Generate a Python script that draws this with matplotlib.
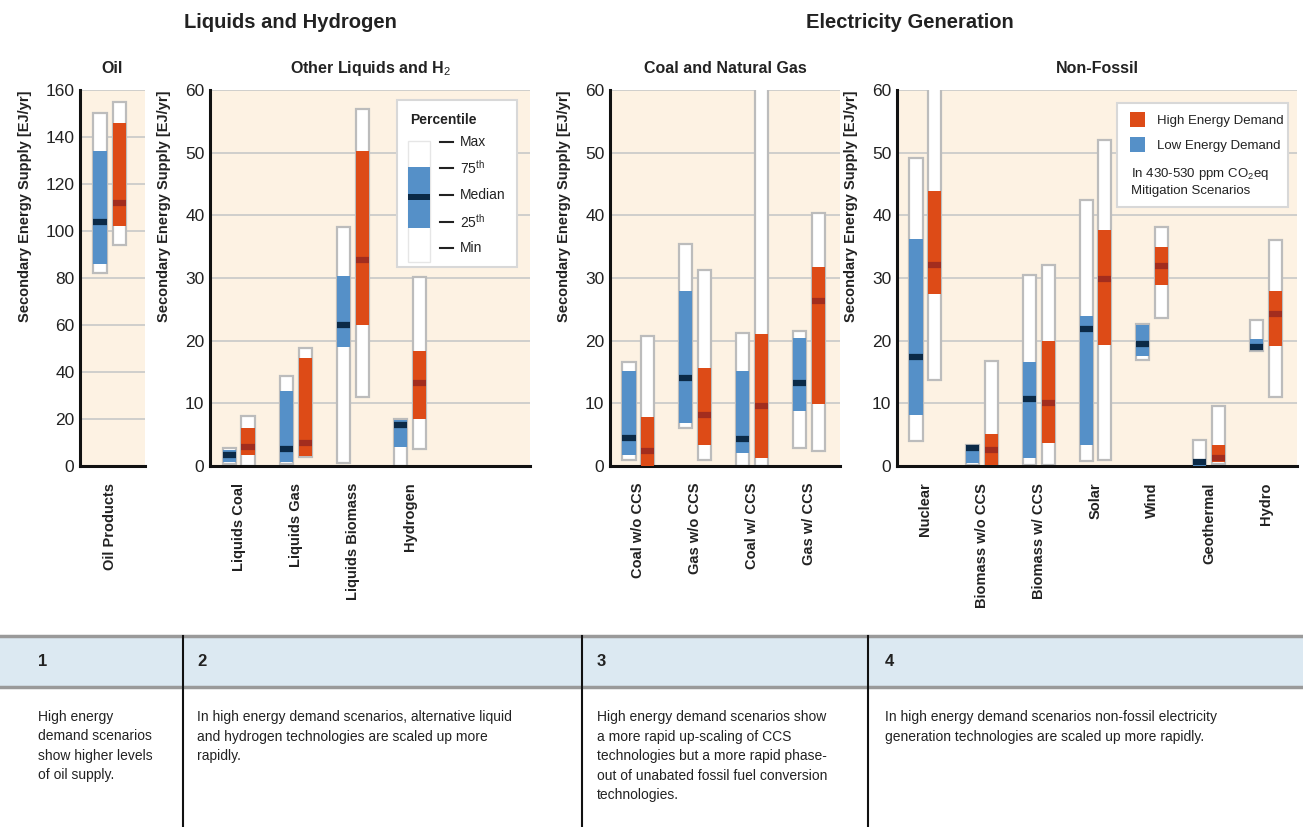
import numpy as np
import matplotlib
matplotlib.use("Agg")
import matplotlib.pyplot as plt
from matplotlib.patches import Rectangle

plt.rcParams["font.family"] = ["Liberation Sans", "DejaVu Sans"]
plt.rcParams["mathtext.fontset"] = "custom"
plt.rcParams["mathtext.rm"] = "Liberation Sans"
plt.rcParams["mathtext.it"] = "Liberation Sans"
plt.rcParams["mathtext.bf"] = "Liberation Sans:bold"

# ---- data: [min, 25th, median, 75th, max] ----
oil_cats = ["Oil Products"]
oil_low = [[82, 86, 104, 134, 150]]
oil_high = [[94, 102, 112, 146, 155]]

liq_cats = ["Liquids Coal", "Liquids Gas", "Liquids Biomass", "Hydrogen"]
liq_low = [[0.3, 0.7, 1.7, 2.5, 2.8],
           [0.3, 0.7, 2.7, 11.9, 14.4],
           [0.5, 19.0, 22.5, 30.3, 38.2],
           [0.0, 3.0, 6.5, 7.3, 7.5]]
liq_high = [[0.0, 1.8, 3.0, 6.0, 7.9],
            [1.5, 1.6, 3.6, 17.3, 18.8],
            [11.0, 22.5, 32.8, 50.3, 57.0],
            [2.7, 7.5, 13.3, 18.3, 30.2]]

fos_cats = ["Coal w/o CCS", "Gas w/o CCS", "Coal w/ CCS", "Gas w/ CCS"]
fos_low = [[1.0, 1.8, 4.5, 15.2, 16.6],
           [6.0, 6.8, 14.1, 27.9, 35.5],
           [0.0, 2.1, 4.3, 15.2, 21.3],
           [2.9, 8.7, 13.2, 20.4, 21.5]]
fos_high = [[0.0, 0.0, 2.4, 7.8, 20.7],
            [1.0, 3.4, 8.2, 15.6, 31.3],
            [0.0, 1.3, 9.6, 21.1, 64.0],
            [2.4, 9.9, 26.3, 31.7, 40.4]]

nf_cats = ["Nuclear", "Biomass w/o CCS", "Biomass w/ CCS", "Solar", "Wind",
           "Geothermal", "Hydro"]
nf_low = [[4.0, 8.2, 17.4, 36.2, 49.2],
          [0.2, 0.4, 2.8, 3.3, 3.4],
          [0.2, 1.2, 10.7, 16.6, 30.5],
          [0.8, 3.3, 21.8, 24.0, 42.5],
          [16.9, 17.6, 19.5, 22.5, 22.6],
          [0.0, 0.0, 0.6, 1.1, 4.2],
          [18.3, 18.6, 19.0, 20.3, 23.3]]
nf_high = [[13.8, 27.4, 32.0, 43.9, 64.0],
           [0.0, 0.1, 2.6, 5.1, 16.7],
           [0.2, 3.7, 10.0, 19.9, 32.0],
           [1.0, 19.3, 29.8, 37.7, 52.1],
           [23.6, 28.9, 31.9, 34.9, 38.2],
           [0.3, 0.6, 1.2, 3.3, 9.5],
           [11.0, 19.1, 24.3, 27.9, 36.0]]

notes = [
    "High energy\ndemand scenarios\nshow higher levels\nof oil supply.",
    "In high energy demand scenarios, alternative liquid\nand hydrogen technologies are scaled up more\nrapidly.",
    "High energy demand scenarios show\na more rapid up-scaling of CCS\ntechnologies but a more rapid phase-\nout of unabated fossil fuel conversion\ntechnologies.",
    "In high energy demand scenarios non-fossil electricity\ngeneration technologies are scaled up more rapidly.",
]

BLUE = "#5590c8"
NAVY = "#0b2a47"
ORANGE = "#dd4b17"
DARKRED = "#a22d1e"
CREAM = "#fdf2e3"
EDGE = "#bcbcbc"
TXT = "#222222"

W, H = 1303, 827
fig = plt.figure(figsize=(W / 100, H / 100), dpi=100)


def px_axes(left, top, width, height):
    return fig.add_axes([left / W, 1 - (top + height) / H, width / W, height / H])


def draw_panel(ax, cats, low, high, ymax, step, xr, title):
    ax.set_facecolor(CREAM)
    ax.set_xlim(-0.5, xr)
    ax.set_ylim(0, ymax)
    ax.set_yticks(np.arange(0, ymax + 1, step))
    ax.grid(axis="y", color="#c8c8c8", linewidth=1.2, zorder=0)
    ax.set_axisbelow(True)
    for s in ["top", "right"]:
        ax.spines[s].set_visible(False)
    for s in ["left", "bottom"]:
        ax.spines[s].set_linewidth(2.2)
        ax.spines[s].set_color("#111111")
    ax.tick_params(length=0, labelsize=12.5, pad=4, colors=TXT)
    x = np.arange(len(cats))
    bw, off = 0.23, 0.165
    for vals, dx, c, mc in [(low, -off, BLUE, NAVY), (high, off, ORANGE, DARKRED)]:
        for i, v in enumerate(vals):
            xc = x[i] + dx
            ax.add_patch(Rectangle((xc - bw / 2, v[0]), bw, v[4] - v[0],
                                   facecolor="white", edgecolor=EDGE, lw=1.6, zorder=2))
            ax.add_patch(Rectangle((xc - bw / 2, v[1]), bw, v[3] - v[1],
                                   facecolor=c, edgecolor="none", zorder=3))
            ax.hlines(v[2], xc - bw / 2, xc + bw / 2, color=mc, lw=4.5, zorder=4,
                      capstyle="butt")
    ax.set_xticks(x)
    ax.set_xticklabels(cats, rotation=90, fontsize=10.5, fontweight="bold", color=TXT)
    ax.tick_params(axis="x", pad=12)
    ax.set_title(title, fontsize=11.5, fontweight="bold", pad=12, color=TXT)
    ax.set_ylabel("Secondary Energy Supply [EJ/yr]", fontsize=10.5,
                  fontweight="bold", color=TXT, labelpad=10, loc="top")


ax1 = px_axes(80, 90, 65, 376)
draw_panel(ax1, oil_cats, oil_low, oil_high, 160, 20, 0.6, "Oil")
ax2 = px_axes(210, 90, 320, 376)
draw_panel(ax2, liq_cats, liq_low, liq_high, 60, 10, 5.1, "Other Liquids and H$_2$")
ax3 = px_axes(610, 90, 230, 376)
draw_panel(ax3, fos_cats, fos_low, fos_high, 60, 10, 3.55, "Coal and Natural Gas")
ax4 = px_axes(897, 90, 400, 376)
draw_panel(ax4, nf_cats, nf_low, nf_high, 60, 10, 6.55, "Non-Fossil")

# ---- overlay in pixel coordinates ----
ov = fig.add_axes([0, 0, 1, 1])
ov.set_xlim(0, W)
ov.set_ylim(H, 0)
ov.axis("off")

ov.text(290, 22, "Liquids and Hydrogen", fontsize=14.5, fontweight="bold",
        ha="center", va="center", color=TXT)
ov.text(910, 22, "Electricity Generation", fontsize=14.5, fontweight="bold",
        ha="center", va="center", color=TXT)

# percentile legend
ov.add_patch(Rectangle((397, 100), 120, 167, facecolor="white",
                       edgecolor="#d8d8d8", lw=1.5))
ov.text(410, 120, "Percentile", fontsize=10, fontweight="bold", va="center", color=TXT)
ov.add_patch(Rectangle((408, 141), 22, 121, facecolor="white", edgecolor="#e6e6e6", lw=1))
ov.add_patch(Rectangle((408, 167), 22, 61, facecolor=BLUE, edgecolor="none"))
ov.add_patch(Rectangle((408, 194), 22, 6, facecolor=NAVY, edgecolor="none"))
for yy, lab in zip([142, 168, 195, 222, 248], ["Max", "75$^{th}$", "Median", "25$^{th}$", "Min"]):
    ov.plot([440, 453], [yy, yy], color="#222222", lw=1.5)
    ov.text(460, yy, lab, fontsize=10, va="center", color=TXT)

# demand legend
ov.add_patch(Rectangle((1117, 103), 171, 104, facecolor="white",
                       edgecolor="#d8d8d8", lw=1.5))
ov.add_patch(Rectangle((1130, 112), 15, 15, facecolor=ORANGE, edgecolor="none"))
ov.add_patch(Rectangle((1130, 137), 15, 15, facecolor=BLUE, edgecolor="none"))
ov.text(1157, 121, "High Energy Demand", fontsize=9.5, va="center", color=TXT)
ov.text(1157, 146, "Low Energy Demand", fontsize=9.5, va="center", color=TXT)
ov.text(1131, 174, "In 430-530 ppm CO$_2$eq", fontsize=9.5, va="center", color=TXT)
ov.text(1131, 191, "Mitigation Scenarios", fontsize=9.5, va="center", color=TXT)

# ---- bottom table ----
ov.add_patch(Rectangle((0, 636), W, 51, facecolor="#dce9f2", edgecolor="none"))
ov.plot([0, W], [636, 636], color="#9a9a9a", lw=2.5)
ov.plot([0, W], [687, 687], color="#9a9a9a", lw=2.5)
for xx in [183, 582, 868]:
    ov.plot([xx, xx], [636, H], color="#111111", lw=1.5)
col_x = [38, 197, 597, 885]
for i, (cx, note) in enumerate(zip(col_x, notes)):
    ov.text(cx, 661, str(i + 1), fontsize=12, fontweight="bold", va="center", color=TXT)
    ov.text(cx, 710, note, fontsize=10, va="top", ha="left", linespacing=1.5, color=TXT)

fig.savefig("out.png", dpi=100, facecolor="white")
